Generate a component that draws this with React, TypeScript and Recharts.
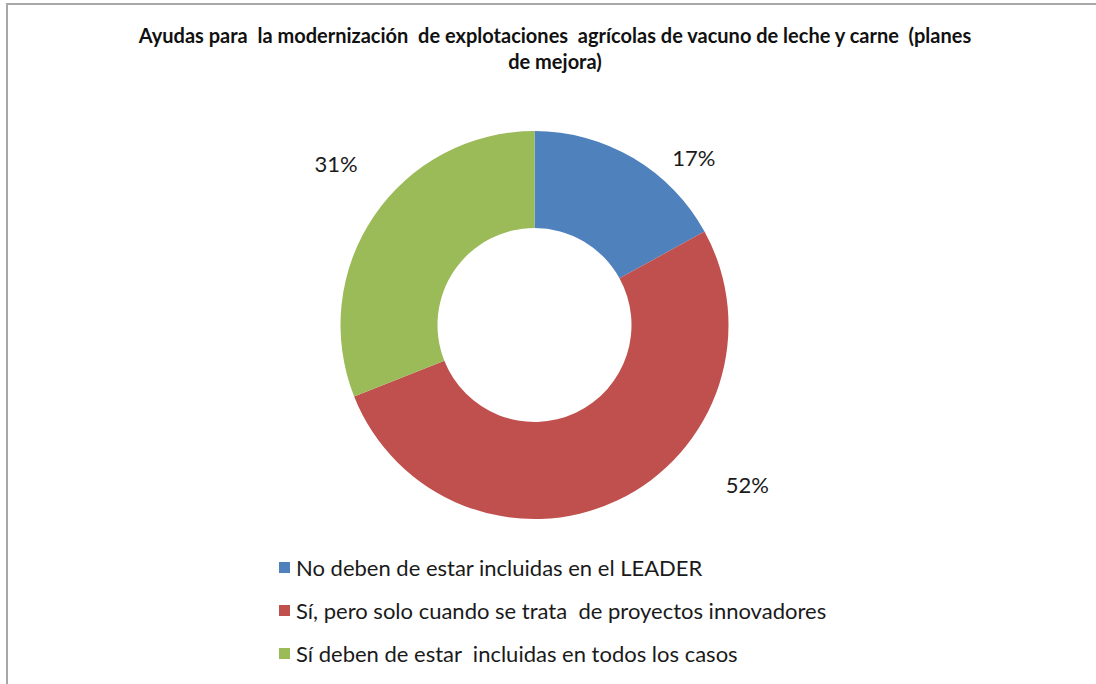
import React from "react";
import { PieChart, Pie, Cell, Legend } from "recharts";

// answers and their shares (%)
const ANSWERS = [
  "No deben de estar incluidas en el LEADER",
  "Sí, pero solo cuando se trata  de proyectos innovadores",
  "Sí deben de estar  incluidas en todos los casos",
];
const SHARES = [17, 52, 31];

const TITLE_LINES = [
  "Ayudas para  la modernización  de explotaciones  agrícolas de vacuno de leche y carne  (planes",
  "de mejora)",
];

const COLORS = ["#4F81BD", "#C0504D", "#9BBB59"];

// labels were dragged by hand in the source: angle nudge (deg) and radius factor per slice
const LABEL_NUDGE = [
  { angle: -13, r: 1.19 },
  { angle: 28, r: 1.37 },
  { angle: -5, r: 1.32 },
];

const FONT = "Lato, 'Open Sans', sans-serif";
const RAD = Math.PI / 180;

const data = ANSWERS.map((name, i) => ({ name, value: SHARES[i] }));

function renderLabel(props: any) {
  const { cx, cy, midAngle, outerRadius, percent, index } = props;
  const nudge = LABEL_NUDGE[index] || { angle: 0, r: 1.25 };
  const a = (midAngle + nudge.angle) * RAD;
  const r = outerRadius * nudge.r;
  const x = cx + r * Math.cos(a);
  const y = cy - r * Math.sin(a);
  return (
    <text
      x={x}
      y={y}
      textAnchor="middle"
      dominantBaseline="central"
      fill="#1a1a1a"
      fontSize={22}
      fontFamily={FONT}
    >
      {`${Math.round(percent * 100)}%`}
    </text>
  );
}

function LegendList({ payload }: any) {
  // keep the order of the source data, not the alphabetical one
  const items = [...(payload || [])].sort(
    (a: any, b: any) => ANSWERS.indexOf(a.value) - ANSWERS.indexOf(b.value)
  );
  return (
    <div style={{ fontFamily: FONT, fontSize: 22, color: "#1a1a1a" }}>
      {items.map((item: any, i: number) => (
        <div
          key={`leg-${i}`}
          style={{ display: "flex", alignItems: "center", height: 43, whiteSpace: "pre" }}
        >
          <span
            style={{ width: 11, height: 11, background: item.color, marginRight: 6, display: "inline-block" }}
          />
          {item.value}
        </div>
      ))}
    </div>
  );
}

export default function App() {
  return (
    <div
      style={{
        position: "fixed",
        left: 0,
        top: 0,
        width: 1096,
        height: 684,
        overflow: "hidden",
        background: "#fff",
      }}
    >
      <div
        style={{
          position: "absolute",
          left: 6,
          top: 3,
          width: 1200,
          height: 800,
          border: "2px solid #a8a8a8",
          boxSizing: "border-box",
        }}
      />
      <div
        style={{
          position: "absolute",
          left: 0,
          top: 22,
          width: 1110,
          textAlign: "center",
          fontFamily: FONT,
          fontWeight: "bold",
          fontSize: 20,
          lineHeight: "26px",
          color: "#111",
          whiteSpace: "pre",
        }}
      >
        {TITLE_LINES.map((t, i) => (
          <div key={i}>{t}</div>
        ))}
      </div>
      <div style={{ position: "absolute", left: 0, top: 0 }}>
        <PieChart width={1096} height={684}>
          <Pie
            data={data}
            dataKey="value"
            nameKey="name"
            cx={529.5}
            cy={320}
            innerRadius={97}
            outerRadius={194}
            startAngle={90}
            endAngle={-270}
            stroke="none"
            label={renderLabel}
            labelLine={false}
            isAnimationActive={false}
          >
            {data.map((_d, i) => (
              <Cell key={`cell-${i}`} fill={COLORS[i % COLORS.length]} />
            ))}
          </Pie>
          <Legend
            layout="vertical"
            content={<LegendList />}
            wrapperStyle={{ position: "absolute", left: 279, top: 546, width: 800 }}
          />
        </PieChart>
      </div>
    </div>
  );
}
